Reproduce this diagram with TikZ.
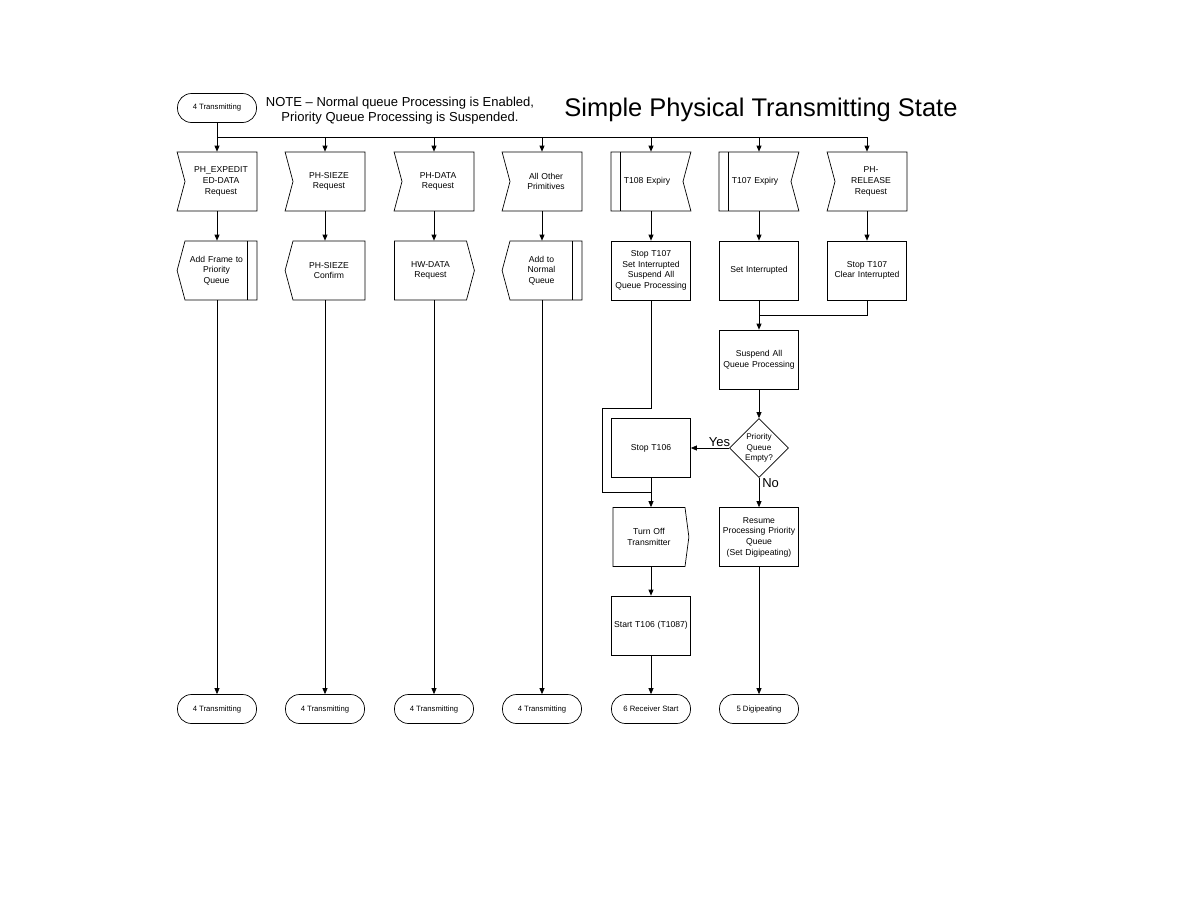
\documentclass[tikz,border=0pt]{standalone}
\usepackage{fontspec}
\setmainfont{Liberation Sans}
\usepackage{tikz}
\usetikzlibrary{arrows.meta,shapes.geometric,shapes.symbols}

\begin{document}
\begin{tikzpicture}[x=1pt,y=-1pt,line width=0.7pt,
    >={Triangle[length=6pt,width=5pt]},
    box/.style={draw, minimum height=59pt, inner sep=1pt, align=center,
        font=\fontsize{8.6}{10.7}\selectfont},
    task/.style={box, minimum width=79pt, text width=77pt},
    sig/.style={box, signal, text width=70pt, signal pointer angle=150},
    inbox/.style={sig, signal from=west, signal to=nowhere},
    outright/.style={sig, signal to=east},
    outleft/.style={sig, signal to=west},
    queue/.style={outleft,
        execute at begin node={\leftskip=0pt plus 1fil\rightskip=9pt plus 1fil\parfillskip=0pt},
        path picture={\draw ([xshift=-10pt]path picture bounding box.north east) -- ([xshift=-10pt]path picture bounding box.south east);}},
    timer/.style={sig, signal from=east, signal to=nowhere,
        path picture={\draw ([xshift=9pt]path picture bounding box.north west) -- ([xshift=9pt]path picture bounding box.south west);}},
    term/.style={draw, rounded corners=14pt, minimum width=79pt, minimum height=29pt,
        inner sep=1pt, font=\fontsize{7.7}{9}\selectfont},
    query/.style={draw, diamond, aspect=1, minimum width=59pt, minimum height=59pt,
        inner sep=0pt, align=center, font=\fontsize{8.2}{10.2}\selectfont},
    lbl/.style={inner sep=1pt, font=\fontsize{13}{15}\selectfont}]
    \useasboundingbox (0,0) rectangle (1188,918);

    % header
    \node [term, minimum height=29pt] (t0) at (217,108) {4 Transmitting};
    \node [align=center, font=\fontsize{13}{15}\selectfont] (note) at (400,111)
        {NOTE \textendash{} Normal queue Processing is Enabled,\\Priority Queue Processing is Suspended.};
    \node [font=\fontsize{25.5}{30}\selectfont] (title) at (761,110) {Simple Physical Transmitting State};

    % signals
    \node [inbox] (in1) at (221,181.5) {PH\_EXPEDIT\\ED-DATA\\Request};
    \node [inbox] (in2) at (329,181.5) {PH-SIEZE\\Request};
    \node [inbox] (in3) at (438,181.5) {PH-DATA\\Request};
    \node [inbox] (in4) at (546,181.5) {All Other\\Primitives};
    \node [timer] (tm5) at (647,181.5) {T108 Expiry};
    \node [timer] (tm6) at (755,181.5) {T107 Expiry};
    \node [inbox] (in7) at (871,181.5) {PH-\\RELEASE\\Request};

    % first actions
    \node [queue] (q1) at (221,270.5) {Add Frame to\\Priority\\Queue};
    \node [outleft] (o2) at (329,270.5) {PH-SIEZE\\Confirm};
    \node [outright] (o3) at (430.5,270.5) {HW-DATA\\Request};
    \node [queue] (q4) at (546,270.5) {Add to\\Normal\\Queue};
    \node [task] (a5) at (651,270.5) {Stop T107\\Set Interrupted\\Suspend All\\Queue Processing};
    \node [task] (a6) at (759,270.5) {Set Interrupted};
    \node [task] (a7) at (867,270.5) {Stop T107\\Clear Interrupted};

    % right part
    \node [task] (susp) at (759,359.5) {Suspend All\\Queue Processing};
    \node [query] (pq) at (759,448) {Priority\\Queue\\Empty?};
    \node [task] (s106) at (651,448) {Stop T106};
    \node [outright, signal pointer angle=165] (off) at (649,537) {Turn Off\\Transmitter};
    \node [task] (res) at (759,537) {Resume\\Processing Priority\\Queue\\(Set Digipeating)};
    \node [task] (st106) at (651,625.5) {Start T106 (T1087)};

    % next states
    \node [term] (e1) at (217,709) {4 Transmitting};
    \node [term] (e2) at (325,709) {4 Transmitting};
    \node [term] (e3) at (434,709) {4 Transmitting};
    \node [term] (e4) at (542,709) {4 Transmitting};
    \node [term] (e5) at (651,709) {6 Receiver Start};
    \node [term] (e6) at (759,709) {5 Digipeating};

    \coordinate (bus) at (217,137);
    \coordinate (k5) at (602,408);
    \coordinate (j5) at (651,492);
    \coordinate (j6) at (759,315);

    \draw (t0) -- (bus) -- (bus -| a7);
    \foreach \n/\c in {in1/e1,in2/e2,in3/e3,in4/e4,tm5/e5,tm6/e6,in7/a7}
        \draw [->] (bus -| \c) -- (\n.north -| \c);
    \foreach \n/\m/\c in {in1/q1/e1,in2/o2/e2,in3/o3/e3,in4/q4/e4,tm5/a5/e5,tm6/a6/e6,in7/a7/a7}
        \draw [->] (\n.south -| \c) -- (\m.north -| \c);
    \foreach \m/\c in {q1/e1,o2/e2,o3/e3,q4/e4}
        \draw [->] (\m.south -| \c) -- (\c);

    \draw (a5) -- (a5 |- k5) -- (k5) -- (k5 |- j5) -- (j5);
    \draw (s106) -- (j5);
    \draw [->] (j5) -- (off.north -| j5);
    \draw [->] (off.south -| e5) -- (st106);
    \draw [->] (st106) -- (e5);

    \draw [->] (a6) -- (susp);
    \draw (a7) |- (j6);
    \draw [->] (susp) -- (pq);
    \draw [->] (pq) -- node [lbl, above, pos=0.25] {Yes} (s106);
    \draw [->] (pq) -- node [lbl, right, pos=0.17, xshift=2pt] {No} (res);
    \draw [->] (res) -- (e6);
\end{tikzpicture}
\end{document}
